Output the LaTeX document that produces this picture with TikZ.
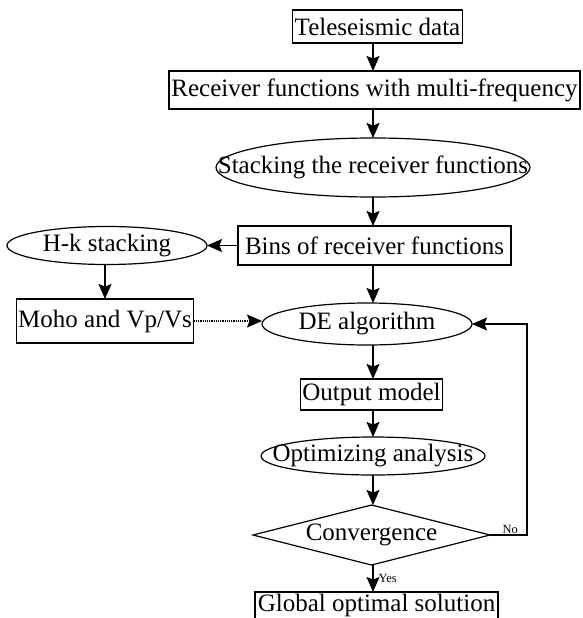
\documentclass[tikz,border=0pt]{standalone}
\usepackage{fontspec}
\setmainfont{Liberation Serif}
\usetikzlibrary{arrows.meta, positioning, shapes.geometric}
\newcommand{\zbox}[1]{\makebox[0pt]{#1}}

\begin{document}
\begin{tikzpicture}[
        x=1pt, y=1pt,
        box/.style={draw, line width=1.2pt, inner xsep=2pt, inner ysep=0pt, outer sep=0pt,
                    font=\fontsize{25}{30}\selectfont},
        ell/.style={draw, ellipse, line width=1.2pt, inner sep=0pt, outer sep=0pt,
                    font=\fontsize{25}{30}\selectfont},
        dia/.style={draw, diamond, line width=1.2pt, inner sep=0pt, outer sep=0pt,
                    font=\fontsize{25}{30}\selectfont},
        arr/.style={-{Stealth[length=15pt, width=13pt, inset=2.5pt]}, line width=1.2pt},
        lab/.style={font=\fontsize{12.5}{14}\selectfont, inner sep=1pt}
      ]
      \useasboundingbox (0,0) rectangle (582,-618);

      % Hauptspalte von oben nach unten
      \node[box, minimum width=169pt, minimum height=33pt] (tele) at (377.5,-26.5) {Teleseismic data};
      \node[box, minimum width=411pt, minimum height=38pt, below=28pt of tele, xshift=-3pt] (rf)
           {Receiver functions with multi-frequency};
      \node[ell, minimum width=314pt, minimum height=59pt, below=29pt of rf, xshift=-1.5pt] (stack)
           {\zbox{Stacking the receiver functions}};
      \node[box, minimum width=273pt, minimum height=39pt, below=29pt of stack, xshift=1.5pt] (bins)
           {Bins of receiver functions};
      \node[ell, minimum width=210pt, minimum height=42pt, below=38pt of bins, xshift=-7.5pt] (de)
           {\zbox{DE algorithm}};
      \node[box, minimum width=141pt, minimum height=31pt, below=34pt of de, xshift=4.5pt] (out)
           {Output model};
      \node[ell, minimum width=224pt, minimum height=38pt, below=27pt of out, xshift=1.5pt] (opt)
           {\zbox{Optimizing analysis}};
      \node[dia, minimum width=237pt, minimum height=60pt, below=30pt of opt, xshift=-1.5pt] (conv)
           {\zbox{Convergence}};
      \node[box, minimum width=243pt, minimum height=27pt, below=27pt of conv, xshift=5pt] (glob)
           {Global optimal solution};

      % linke Spalte
      \node[ell, minimum width=200pt, minimum height=38pt, left=31pt of bins] (hk)
           {\zbox{H-k stacking}};
      \node[box, minimum width=176pt, minimum height=44pt, below=34.5pt of hk, xshift=-2pt] (moho)
           {Moho and Vp/Vs};

      % Pfeile
      \coordinate (mid) at (373,0);
      \draw[arr] (mid |- tele.south) -- (mid |- rf.north);
      \draw[arr] (mid |- rf.south) -- (mid |- stack.north);
      \draw[arr] (mid |- stack.south) -- (mid |- bins.north);
      \draw[arr] (mid |- bins.south) -- (mid |- de.north);
      \draw[arr] (mid |- de.south) -- (mid |- out.north);
      \draw[arr] (mid |- out.south) -- (mid |- opt.north);
      \draw[arr] (mid |- opt.south) -- (mid |- conv.north);
      \draw[arr] (mid |- conv.south) -- node[lab, right, xshift=4pt] (yes) {Yes} (mid |- glob.north);
      \draw[arr] (bins.west) -- (hk.east);
      \draw[arr] (moho.north |- hk.south) -- (moho.north);
      \draw[arr, densely dotted] (moho.east) -- (moho.east -| de.west);

      % Rueckfuehrung
      \draw[arr] (conv.east) -- node[lab, above, pos=0.55] (no) {No} ++(37pt,0) |- (de.east);
    \end{tikzpicture}
\end{document}
